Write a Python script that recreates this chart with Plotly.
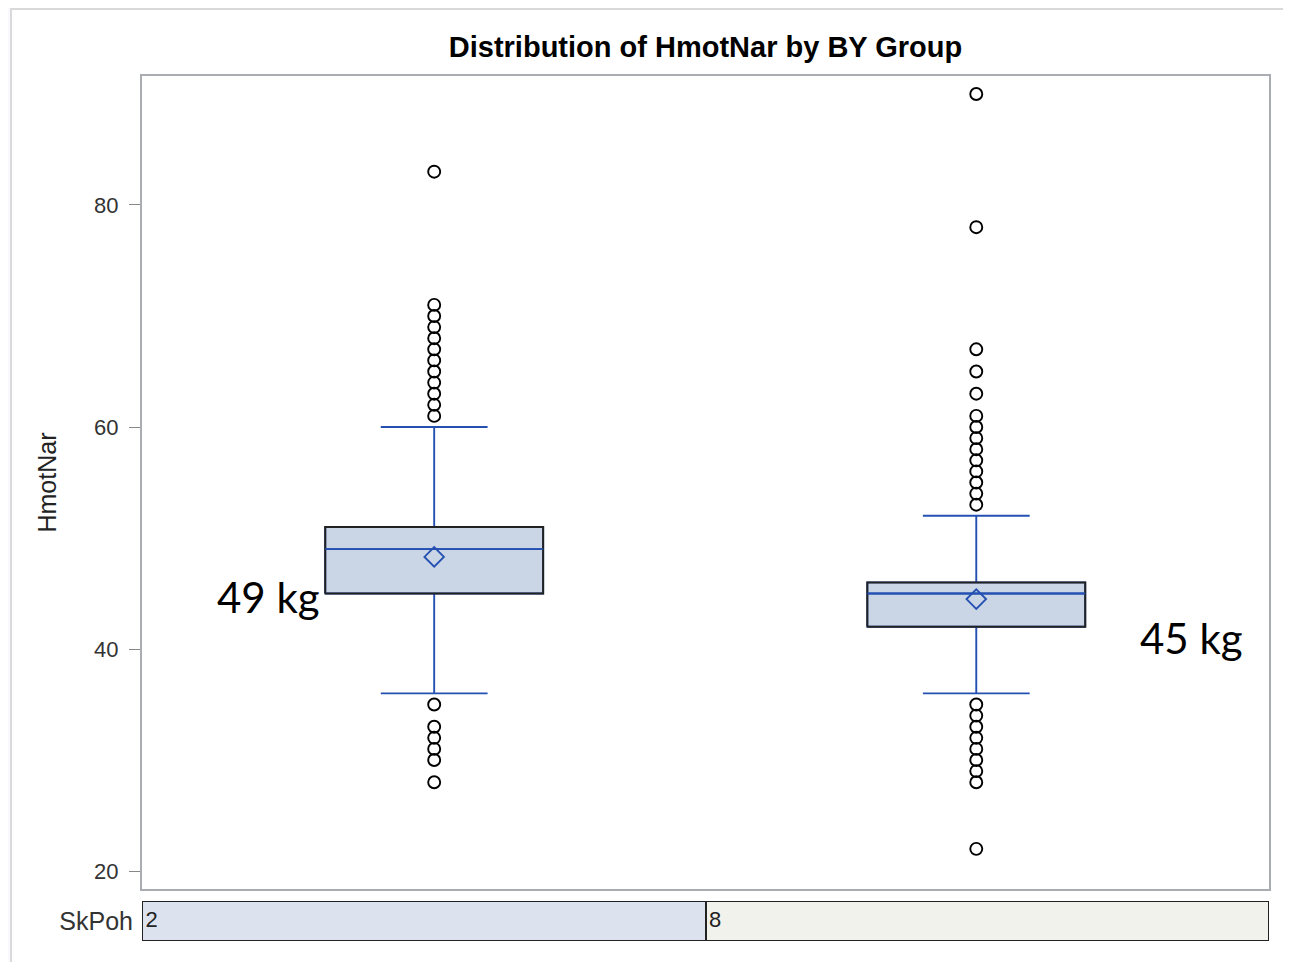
import plotly.graph_objects as go

# ---------------- data ----------------
groups = ["2", "8"]                 # SkPoh BY-group values
positions = [0, 1]
q1 = [45, 42]
median = [49, 45]
q3 = [51, 46]
lower_fence = [36, 36]
upper_fence = [60, 52]
means = [48.3, 44.5]
outliers_g1 = [83, 71, 70, 69, 68, 67, 66, 65, 64, 63, 62, 61, 35, 33, 32, 31, 30, 28]
outliers_g2 = [90, 78, 67, 65, 63, 61, 60, 59, 58, 57, 56, 55, 54, 53,
               35, 34, 33, 32, 31, 30, 29, 28, 22]
note_text = ["49 kg", "45 kg"]
note_x = [-0.305, 1.397]
note_y = [44.7, 41.0]
y_ticks = [20, 40, 60, 80]

# ---------------- style ----------------
BLUE = "#2450B2"
FILL = "#CAD5E5"
DARK = "#222222"
BOX_W = 0.402
XR = [-0.539, 1.54]
YR = [18.38, 91.62]
FONT = "Liberation Sans, Arial, sans-serif"
W, H = 1283, 954   # page shows the figure with an 8px body margin

fig = go.Figure()

# box (blue whiskers and median)
fig.add_trace(go.Box(
    x=positions, q1=q1, median=median, q3=q3,
    lowerfence=lower_fence, upperfence=upper_fence,
    width=BOX_W, whiskerwidth=0.49, boxpoints=False,
    fillcolor=FILL, line=dict(color=BLUE, width=1.9),
    xaxis="x", yaxis="y", showlegend=False, hoverinfo="skip"))

# dark outline of each box
for p, a, b in zip(positions, q1, q3):
    hw = BOX_W / 2
    fig.add_trace(go.Scatter(
        x=[p - hw, p + hw, p + hw, p - hw, p - hw],
        y=[a, a, b, b, a], mode="lines",
        line=dict(color=DARK, width=2),
        showlegend=False, hoverinfo="skip", xaxis="x", yaxis="y"))
# median redraw on top (blue) inside the box
for p, m in zip(positions, median):
    hw = BOX_W / 2
    fig.add_trace(go.Scatter(
        x=[p - hw, p + hw], y=[m, m], mode="lines",
        line=dict(color=BLUE, width=1.9),
        showlegend=False, hoverinfo="skip", xaxis="x", yaxis="y"))

# means
fig.add_trace(go.Scatter(
    x=positions, y=means, mode="markers",
    marker=dict(symbol="diamond-open", size=15, color=BLUE, line=dict(width=1.9, color=BLUE)),
    showlegend=False, hoverinfo="skip", xaxis="x", yaxis="y"))

# outliers
for p, outs in zip(positions, [outliers_g1, outliers_g2]):
    fig.add_trace(go.Scatter(
        x=[p] * len(outs), y=outs, mode="markers",
        marker=dict(symbol="circle-open", size=12, color="black", line=dict(width=1.9, color="black")),
        showlegend=False, hoverinfo="skip", xaxis="x", yaxis="y"))

# BY-group strip
fig.add_trace(go.Bar(
    x=[p + 0.5 for p in positions], y=[1, 1], base=[0, 0], width=1,
    marker=dict(color=["#DCE3EE", "#F2F2EC"], line=dict(color=DARK, width=2)),
    showlegend=False, hoverinfo="skip", xaxis="x2", yaxis="y2"))
fig.add_trace(go.Scatter(
    x=[p + 0.006 for p in positions], y=[0.5, 0.5], mode="text", text=groups,
    textposition="middle right", textfont=dict(family=FONT, size=22, color=DARK),
    showlegend=False, hoverinfo="skip", xaxis="x2", yaxis="y2"))

main_dom = [0.0601, 1.0]
strip_dom = [0.0, 0.0462]

fig.update_layout(
    width=W, height=H,
    margin=dict(l=134, r=22, t=68, b=21),
    paper_bgcolor="#F8F9FD", plot_bgcolor="white",
    font=dict(family=FONT, color="#333333"),
    title=dict(text="<b>Distribution of HmotNar by BY Group</b>",
               x=697.5 / W, xanchor="center", y=1 - 39 / H, yanchor="middle",
               font=dict(family=FONT, size=29, color="black")),
    xaxis=dict(range=XR, domain=[0, 1], anchor="y", showticklabels=False, ticks="",
               showgrid=False, zeroline=False, showline=True, mirror=True,
               linecolor="#A9ADB1", linewidth=2),
    yaxis=dict(range=YR, domain=main_dom, anchor="x", tickvals=y_ticks,
               ticks="outside", ticklen=11, tickcolor="#888888", tickwidth=1,
               tickfont=dict(size=22, color="#333333"), ticklabelstandoff=6,
               showgrid=False, zeroline=False, showline=True, mirror=True,
               linecolor="#A9ADB1", linewidth=2,
               title=dict(text="HmotNar", font=dict(size=25, color="#222222"), standoff=30)),
    xaxis2=dict(range=[0, 2], domain=[0, 1], anchor="y2", showticklabels=False, ticks="",
                showgrid=False, zeroline=False, showline=False),
    yaxis2=dict(range=[0, 1], domain=strip_dom, anchor="x2", tickvals=[0.5],
                ticktext=["SkPoh"], ticks="", tickfont=dict(size=25, color="#333333"),
                ticklabelstandoff=8,
                showgrid=False, zeroline=False, showline=False),
    bargap=0,
)

for t, x, y in zip(note_text, note_x, note_y):
    fig.add_annotation(x=x, y=y, xref="x", yref="y", text=t, showarrow=False,
                       font=dict(family="Lato, Open Sans, sans-serif", size=42, color="black"))

# outer frame
fig.add_shape(type="rect", xref="paper", yref="paper",
              x0=(11 - 142) / 1127, x1=(1289 - 142) / 1127,
              y0=-0.1, y1=(941 - 9) / 865,
              line=dict(color="#D9D9DC", width=2), fillcolor="white", layer="below")

fig.write_html("out.html")
